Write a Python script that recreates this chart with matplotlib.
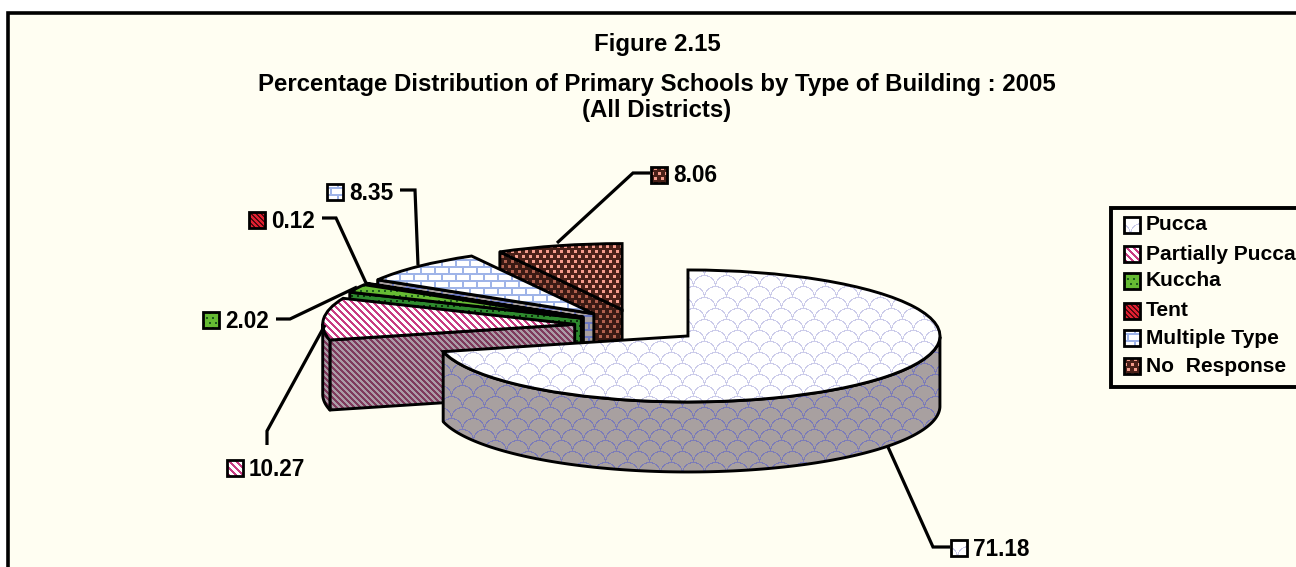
import numpy as np
import matplotlib
matplotlib.use('Agg')
import matplotlib.pyplot as plt
from matplotlib.patches import Polygon, Rectangle

plt.rcParams['font.family'] = ['Liberation Sans', 'DejaVu Sans']

categories = ['Pucca', 'Partially Pucca', 'Kuccha', 'Tent', 'Multiple Type', 'No  Response']
values = [71.18, 10.27, 2.02, 0.12, 8.35, 8.06]
title_lines = ['Figure 2.15',
               'Percentage Distribution of Primary Schools by Type of Building : 2005',
               '(All Districts)']

W, H = 1296, 567
CREAM = '#fffef2'
X, Y = np.meshgrid(np.arange(W), np.arange(H))


def rgb(c):
    return np.array(matplotlib.colors.to_rgb(c)) * 255


def paint(mask, fg, bg):
    out = np.empty((H, W, 3), dtype=np.uint8)
    out[:] = rgb(bg)
    out[mask] = rgb(fg)
    return out


def stripes(fg, bg, period=6, width=3):
    return paint((X - Y) % period < width, fg, bg)


def dots(fg, bg, col=7, row=5, size=3):
    r = Y // row
    return paint(((X + (r % 2) * col // 2) % col < size) & (Y % row < size), fg, bg)


def bricks(fg, bg, w=14, h=7, t=2):
    r = Y // h
    return paint((Y % h < t) | (((X + (r % 2) * w // 2) % w) < t), fg, bg)


def scallops(fg, bg, s=22):
    tile = np.zeros((s, s), dtype=bool)
    ty, tx = np.mgrid[0:s, 0:s]
    for k in range(0, 4):
        for i in range(-1, 3):
            cx, cy = i * s + (k % 2) * s / 2, k * s / 2
            d = np.hypot(tx - cx, ty - cy)
            tile |= (np.abs(d - s / 2) < 0.6) & (ty <= cy)
    m = np.tile(tile, (H // s + 1, W // s + 1))[:H, :W]
    return paint(m, fg, bg)


# top face and side wall texture per slice
top_tex = [scallops('#ccccea', '#ffffff'),
           stripes('#c83c82', '#ffffff', 7, 3),
           dots('#1c5a1c', '#66bb33', 6, 5, 2),
           stripes('#500810', '#e02030', 5, 2),
           bricks('#9fb4e8', '#ffffff'),
           dots('#f49c8c', '#4a2018')]
wall_tex = [scallops('#7c7cb8', '#a8a0a0'),
            stripes('#7e3a5c', '#ab9ba6', 6, 3),
            dots('#0c300c', '#2e8b2e', 6, 5, 2),
            stripes('#300408', '#981420', 5, 2),
            bricks('#6c78c0', '#a8a0a0'),
            dots('#b0604e', '#3a1a14')]

# pixel layout of the pie
PIE_X, PIE_Y = 638, 325.7
RX, RY, DEPTH = 252, 66, 70

fig = plt.figure(figsize=(W / 100, H / 100), dpi=100, facecolor='white')


def px_axes(z):
    a = fig.add_axes([0, 0, 1, 1], zorder=z)
    a.set_xlim(0, W)
    a.set_ylim(H, 0)
    a.axis('off')
    return a


back = px_axes(0)
back.add_patch(Rectangle((8, 13), W + 20, H + 20, facecolor=CREAM, edgecolor='black', lw=2.6))

ax = fig.add_axes([0, 0, 1, 1], zorder=1)
wedges, _ = ax.pie(values, explode=[0.252] * len(values), startangle=90, counterclock=False,
                   wedgeprops=dict(facecolor='none', edgecolor='black', lw=2.1))
ax.set_aspect('auto')
ax.axis('off')
xlim = (-PIE_X / RX, (W - PIE_X) / RX)
ylim = ((PIE_Y - H) / RY, PIE_Y / RY)
ax.set_xlim(*xlim)
ax.set_ylim(*ylim)
ext = (xlim[0], xlim[1], ylim[0], ylim[1])
d = DEPTH / RY


def textured(patch, tex, z):
    patch.set_zorder(z + 0.5)
    if patch.axes is None:
        ax.add_patch(patch)
    im = ax.imshow(tex, extent=ext, aspect='auto', origin='upper', interpolation='nearest', zorder=z)
    im.set_clip_path(patch)


z = 1
for i in reversed(range(len(wedges))):
    w = wedges[i]
    cx, cy = w.center
    ends = []
    # radial cut faces, only if they look towards the viewer
    if np.cos(np.radians(w.theta1)) > 1e-6:
        ends.append(w.theta1)
    if np.cos(np.radians(w.theta2)) < -1e-6:
        ends.append(w.theta2)
    for th in ends:
        px_, py_ = cx + w.r * np.cos(np.radians(th)), cy + w.r * np.sin(np.radians(th))
        textured(Polygon([(cx, cy), (px_, py_), (px_, py_ - d), (cx, cy - d)], closed=True,
                         facecolor='none', edgecolor='black', lw=2.1, joinstyle='round'),
                 wall_tex[i], z)
        z += 1
    # outer rim
    th = np.radians(np.linspace(w.theta1, w.theta2, 300))
    th = th[np.sin(th) < 0]
    if len(th) > 1:
        ex, ey = cx + w.r * np.cos(th), cy + w.r * np.sin(th)
        pts = list(zip(ex, ey)) + list(zip(ex[::-1], ey[::-1] - d))
        textured(Polygon(pts, closed=True, facecolor='none', edgecolor='black', lw=2.1,
                         joinstyle='round'), wall_tex[i], z)
        z += 1
    textured(w, top_tex[i], z)
    z += 1

ov = px_axes(2)


def swatch(x, y, tex, s=16):
    tile = tex[60:60 + s, 60:60 + s]
    ov.imshow(tile, extent=(x, x + s, y + s, y), aspect='auto', interpolation='nearest', zorder=3)
    ov.add_patch(Rectangle((x, y), s, s, facecolor='none', edgecolor='black', lw=2, zorder=4))


for txt, yy in zip(title_lines, [45, 84, 111]):
    ov.text(657, yy, txt, ha='center', va='center', fontsize=17.3, fontweight='bold', color='black')

# value labels: swatch corner, then leader line
label_xy = [(951, 540), (227, 460), (203, 312), (249, 212), (327, 184), (651, 167)]
leaders = [[(888, 447), (933, 547), (950, 547)],
           [(267, 445), (267, 431), (325, 325)],
           [(276, 319), (290, 319), (357, 287)],
           [(322, 218), (336, 218), (366, 283)],
           [(400, 190), (415, 190), (418, 265)],
           [(650, 173), (633, 173), (557, 243)]]
for i, v in enumerate(values):
    x, y = label_xy[i]
    swatch(x, y, top_tex[i])
    ov.text(x + 22, y + 9, f'{v:.2f}', ha='left', va='center', fontsize=16.3, fontweight='bold')
    lx, ly = zip(*leaders[i])
    ov.plot(lx, ly, color='black', lw=2.3, solid_joinstyle='miter', solid_capstyle='butt')

# legend
ov.add_patch(Rectangle((1111, 208), 220, 179, facecolor=CREAM, edgecolor='black', lw=2.8, zorder=2))
legend_y = [225, 254, 281, 311, 338, 366]
for i, name in enumerate(categories):
    swatch(1124, legend_y[i] - 8, top_tex[i])
    ov.text(1146, legend_y[i], name, ha='left', va='center', fontsize=15.1, fontweight='bold', zorder=5)

ov.set_xlim(0, W)
ov.set_ylim(H, 0)
fig.savefig('out.png', dpi=100)
